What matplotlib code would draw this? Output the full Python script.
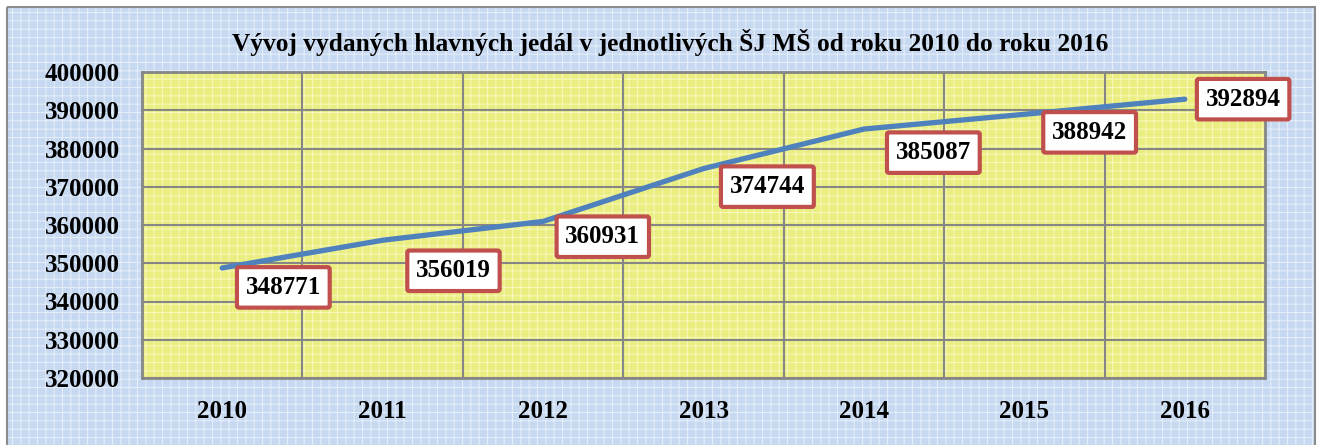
import matplotlib
matplotlib.use('Agg')
import matplotlib.pyplot as plt
from matplotlib.patches import Rectangle

# data
roky = ['2010', '2011', '2012', '2013', '2014', '2015', '2016']
jedla = [348771, 356019, 360931, 374744, 385087, 388942, 392894]
y_ticks = [320000, 330000, 340000, 350000, 360000, 370000, 380000, 390000, 400000]

# posun popiskov (body)
label_offsets = [(44, -14), (51, -22), (43, -11), (46, -13), (50, -17), (47, -13), (42, 0)]

plt.rcParams['font.family'] = ['Liberation Serif', 'DejaVu Serif']
plt.rcParams['font.weight'] = 'bold'
plt.rcParams['hatch.linewidth'] = 0.8

fig = plt.figure(figsize=(13.21, 4.45), dpi=100)
fig.patch.set_facecolor('white')

# pozadie grafu (modre, karovane) - samostatna os za grafom
bg_ax = fig.add_axes([0, 0, 1, 1], zorder=-1)
bg_ax.set_xlim(0, 1321)
bg_ax.set_ylim(445, 0)
bg_ax.axis('off')
bg_ax.add_patch(Rectangle((7, 7), 1308, 450, facecolor='#c6d9f1', edgecolor='none'))
bg_ax.add_patch(Rectangle((7, 7), 1308, 450, facecolor='none', edgecolor='#e4edf8',
                          linewidth=0, hatch='++'))
bg_ax.add_patch(Rectangle((7, 7), 1308, 450, facecolor='none', edgecolor='#8c8c8c',
                          linewidth=1.5))

ax = fig.add_axes([142 / 1321, 1 - 378 / 445, 1123 / 1321, 306 / 445])
ax.set_facecolor('#eaee80')
ax.add_patch(Rectangle((0, 0), 1, 1, transform=ax.transAxes, facecolor='none',
                       edgecolor='#f6f7b8', linewidth=0, hatch='++', zorder=0))

x = list(range(len(roky)))
ax.plot(x, jedla, color='#4f81bd', linewidth=3.8, solid_capstyle='round',
        solid_joinstyle='round', zorder=3)

for i, v in enumerate(jedla):
    ax.annotate(str(v), (x[i], v), xytext=label_offsets[i], textcoords='offset points',
                ha='center', va='center', fontsize=18, fontweight='bold', zorder=5,
                bbox=dict(boxstyle='round,pad=0.35,rounding_size=0.08', facecolor='white',
                          edgecolor='#c0504d', linewidth=3))

ax.set_xlim(-0.5, len(roky) - 0.5)
ax.set_ylim(320000, 400000)
ax.set_yticks(y_ticks)
ax.set_yticklabels([str(t) for t in y_ticks])
ax.set_xticks(x)
ax.set_xticklabels(roky)
ax.set_xticks([i + 0.5 for i in x[:-1]], minor=True)

ax.grid(True, which='major', axis='y', color='#868686', linewidth=1.5, zorder=1)
ax.grid(True, which='minor', axis='x', color='#868686', linewidth=1.5, zorder=1)
ax.set_axisbelow(True)
ax.tick_params(axis='both', which='both', length=0, labelsize=18)
ax.tick_params(axis='y', pad=16)
ax.tick_params(axis='x', pad=16)
for s in ax.spines.values():
    s.set_color('#868686')
    s.set_linewidth(2)

fig.text(0.5 * (233 + 1107) / 1321, 1 - 43 / 445,
         'Vývoj vydaných hlavných jedál v jednotlivých ŠJ MŠ od roku 2010 do roku 2016',
         ha='center', va='center', fontsize=18.3, fontweight='bold')

fig.savefig('out.png', dpi=100)
plt.close(fig)
